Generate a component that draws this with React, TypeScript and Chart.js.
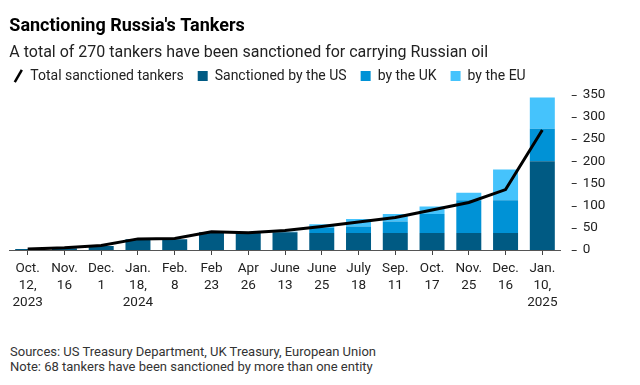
import React, { useEffect, useRef } from "react";
import { Chart, registerables } from "chart.js";
Chart.register(...registerables);

const categories: string[][] = [
  ["Oct.", "12,", "2023"], ["Nov.", "16"], ["Dec.", "1"], ["Jan.", "18,", "2024"], ["Feb.", "8"],
  ["Feb", "23"], ["Apr", "26"], ["June", "13"], ["June", "25"], ["July", "18"],
  ["Sep.", "11"], ["Oct.", "17"], ["Nov.", "25"], ["Dec.", "16"], ["Jan.", "10,", "2025"],
];
const totalSanctioned = [2, 5, 10, 25, 26, 41, 39, 44, 53, 63, 73, 90, 107, 136, 270];
const sanctionedUS = [2, 4, 9, 24, 24, 40, 38, 40, 38, 38, 38, 38, 38, 38, 200];
const sanctionedUK = [0, 0, 0, 0, 0, 0, 0, 1, 12, 15, 26, 43, 74, 74, 73];
const sanctionedEU = [0, 0, 0, 0, 0, 0, 0, 0, 8, 17, 17, 17, 17, 69, 70];
const yTicks = [0, 50, 100, 150, 200, 250, 300, 350];

const FONT = "Roboto, 'Liberation Sans', Arial, sans-serif";
const US_COLOR = "#005a83";
const UK_COLOR = "#0092d6";
const EU_COLOR = "#45c3fc";

const yDashes = {
  id: "yDashes",
  afterDraw(chart: any) {
    const y = chart.scales.y;
    const ctx = chart.ctx;
    const r = chart.chartArea.right;
    ctx.save();
    ctx.strokeStyle = "#333";
    ctx.lineWidth = 1;
    y.ticks.forEach((_t: any, i: number) => {
      const py = Math.round(y.getPixelForTick(i)) + 0.5;
      ctx.beginPath();
      ctx.moveTo(r + 11, py);
      ctx.lineTo(r + 16, py);
      ctx.stroke();
    });
    ctx.restore();
  },
};

const legendShift = {
  id: "legendShift",
  afterLayout(chart: any) {
    if (chart.legend) {
      chart.legend.left -= 10;
      chart.legend.right -= 10;
      chart.legend.top -= 1.5;
      chart.legend.bottom -= 1.5;
    }
  },
};

export default function App() {
  const ref = useRef<HTMLCanvasElement | null>(null);
  useEffect(() => {
    if (!ref.current) return;
    const chart = new Chart(ref.current, {
      type: "bar",
      data: {
        labels: categories,
        datasets: [
          {
            type: "line",
            label: "Total sanctioned tankers",
            data: totalSanctioned,
            borderColor: "#000",
            borderWidth: 3,
            pointRadius: 0,
            pointStyle: "line",
            pointRotation: -60,
            pointBorderColor: "#000",
            pointBorderWidth: 2.5,
            tension: 0,
            order: 0,
          } as any,
          { label: "Sanctioned by the US", data: sanctionedUS, backgroundColor: US_COLOR, order: 1 },
          { label: "by the UK", data: sanctionedUK, backgroundColor: UK_COLOR, order: 1 },
          { label: "by the EU", data: sanctionedEU, backgroundColor: EU_COLOR, order: 1 },
        ],
      },
      options: {
        responsive: false,
        animation: false,
        layout: { padding: { left: 9.3, right: 0, top: 0, bottom: 0 } },
        datasets: { bar: { categoryPercentage: 1, barPercentage: 0.68 } },
        plugins: {
          tooltip: { enabled: false },
          title: {
            display: true,
            text: "Sanctioning Russia's Tankers",
            align: "start",
            color: "#000",
            font: { family: FONT, size: 18, weight: "bold", lineHeight: 1.2 },
            padding: { top: 15.5, bottom: 11.4 },
          },
          subtitle: {
            display: true,
            text: "A total of 270 tankers have been sanctioned for carrying Russian oil",
            align: "start",
            color: "#222",
            font: { family: FONT, size: 16, lineHeight: 0.5 },
            padding: { top: 0, bottom: 0 },
          },
          legend: {
            display: true,
            position: "top",
            align: "start",
            labels: {
              usePointStyle: true,
              boxWidth: 10,
              boxHeight: 10,
              padding: 14,
              color: "#222",
              font: { family: FONT, size: 14 },
              generateLabels(chart: any) {
                const items = Chart.defaults.plugins.legend.labels.generateLabels(chart);
                return items.map((it: any) => {
                  if (it.datasetIndex === 0) {
                    return { ...it, pointStyle: "line", rotation: -60, lineWidth: 2.5, strokeStyle: "#000" };
                  }
                  return { ...it, pointStyle: "rect", rotation: 0, lineWidth: 0 };
                });
              },
            },
          },
        },
        scales: {
          x: {
            stacked: true,
            offset: true,
            grid: { display: true, offset: false, drawOnChartArea: false, drawTicks: true, tickLength: 5, color: "#444" },
            border: { display: true, color: "#555", width: 1 },
            ticks: {
              color: "#222",
              font: { family: FONT, size: 13.5, lineHeight: 1.25 },
              padding: 5,
              maxRotation: 0,
              autoSkip: false,
            },
            afterFit(scale: any) {
              scale.height = 70;
            },
          },
          y: {
            stacked: true,
            position: "right",
            min: 0,
            max: 350,
            afterBuildTicks(scale: any) {
              scale.ticks = yTicks.map((v) => ({ value: v }));
            },
            grid: { display: false, drawTicks: false },
            border: { display: false },
            ticks: {
              color: "#222",
              font: { family: FONT, size: 13.5 },
              padding: 22,
            },
            afterFit(scale: any) {
              scale.width = 79.3;
            },
          },
        },
      },
      plugins: [yDashes, legendShift],
    });
    return () => chart.destroy();
  }, []);

  return (
    <div style={{ position: "absolute", left: 0, top: 0, width: 640, height: 385, background: "#fff", overflow: "hidden" }}>
      <canvas ref={ref} width={640} height={320} style={{ display: "block" }} />
      <div
        style={{
          position: "absolute",
          left: 10,
          top: 344,
          fontFamily: FONT,
          fontSize: 13,
          lineHeight: "15px",
          color: "#333",
        }}
      >
        <div>Sources: US Treasury Department, UK Treasury, European Union</div>
        <div>Note: 68 tankers have been sanctioned by more than one entity</div>
      </div>
    </div>
  );
}
